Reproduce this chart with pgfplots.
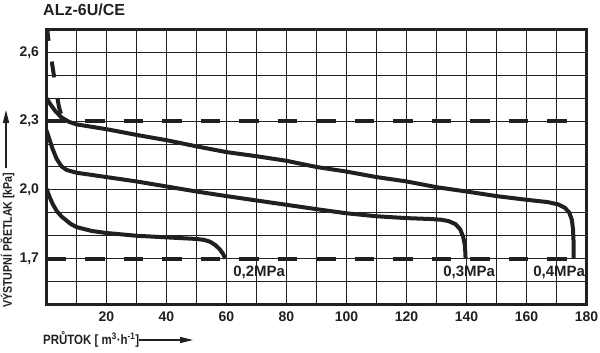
\documentclass[border=0pt]{standalone}
\usepackage{fontspec}
\setmainfont{Liberation Sans}
\newfontfamily\condfont{Liberation Sans}[FakeStretch=0.85]
\usepackage{pgfplots}
\pgfplotsset{compat=1.18}
\usetikzlibrary{arrows.meta}
\definecolor{ink}{RGB}{35,31,32}
\begin{document}
\begin{tikzpicture}
\useasboundingbox (-46.5pt,-48.5pt) rectangle (553.5pt,304.5pt);
\begin{axis}[
  at={(0pt,0pt)}, anchor=south west,
  scale only axis, width=540pt, height=275pt,
  xmin=0, xmax=180, ymin=1.5, ymax=2.7,
  xtick={20,40,60,80,100,120,140,160,180},
  xticklabels={20,40,60,80,100,120,140,160,180},
  minor xtick={10,30,50,70,90,110,130,150,170},
  ytick={1.7,2.0,2.3,2.6},
  yticklabels={{1,7},{2,0},{2,3},{2,6}},
  minor ytick={1.6,1.8,1.9,2.1,2.2,2.4,2.5},
  grid=both,
  grid style={ink, line width=1pt},
  major grid style={ink, line width=1pt},
  minor grid style={ink, line width=1pt},
  major tick length=0pt, minor tick length=0pt,
  axis line style={ink, line width=2.5pt},
  ticklabel style={font=\fontsize{14}{16}\selectfont\bfseries, text=ink},
  xticklabel style={yshift=-4pt},
  yticklabel style={xshift=-4pt},
  clip=true,
]
% dashed reference lines
\addplot[ink, line width=4pt, dash pattern=on 19.5pt off 19pt] coordinates {(0,1.7) (180,1.7)};
\addplot[ink, line width=4pt, dash pattern=on 19.5pt off 19pt] coordinates {(0,2.3) (180,2.3)};
\addplot[ink, line width=4pt, dash pattern=on 16pt off 21pt] coordinates {
 (0.1,2.72) (0.6,2.66) (1.3,2.60) (2.0,2.54) (2.8,2.47) (3.5,2.41) (4.2,2.36) (5.0,2.325) (6.0,2.305) (7.5,2.30)};
% 0.4 MPa
\addplot[ink, line width=4pt] coordinates {
 (0,2.40) (1.5,2.37) (3,2.343) (5,2.316) (7.5,2.297) (10,2.286) (20,2.265) (30,2.24)
 (40,2.217) (50,2.19) (60,2.165) (70,2.147) (80,2.127) (90,2.10) (100,2.08)
 (110,2.056) (120,2.037) (130,2.012) (140,1.993) (150,1.973) (160,1.957)
 (167,1.947) (170.5,1.937) (172.8,1.922) (174.3,1.90) (175.1,1.87) (175.5,1.83)
 (175.7,1.77) (175.7,1.70)};
% 0.3 MPa
\addplot[ink, line width=4pt] coordinates {
 (0,2.26) (1,2.22) (2,2.18) (3.4,2.135) (5,2.103) (6.7,2.087) (10,2.075) (20,2.056)
 (30,2.037) (40,2.015) (50,1.993) (60,1.973) (70,1.954) (80,1.935) (90,1.916)
 (100,1.898) (110,1.885) (120,1.877) (128,1.873) (131.5,1.870) (134,1.864)
 (136.3,1.851) (137.9,1.828) (138.9,1.795) (139.5,1.755) (139.7,1.70)};
% 0.2 MPa
\addplot[ink, line width=4pt] coordinates {
 (0,2.005) (1,1.97) (2,1.94) (3.4,1.908) (5,1.884) (6.7,1.866) (8,1.852) (10,1.838)
 (15,1.821) (20,1.812) (30,1.80) (40,1.793) (50,1.786) (52.5,1.782) (54.5,1.774)
 (56.3,1.759) (57.8,1.740) (58.9,1.72) (59.6,1.70)};
\node[anchor=base west, inner sep=0pt, text=ink, font=\fontsize{15}{17}\selectfont\bfseries] at (axis cs:62.2,1.621) {0,2MPa};
\node[anchor=base west, inner sep=0pt, text=ink, font=\fontsize{15}{17}\selectfont\bfseries] at (axis cs:132.2,1.621) {0,3MPa};
\node[anchor=base west, inner sep=0pt, text=ink, font=\fontsize{15}{17}\selectfont\bfseries] at (axis cs:162.2,1.621) {0,4MPa};
\end{axis}
% title
\node[anchor=base west, inner sep=0pt, text=ink, font=\fontsize{16}{18}\selectfont\bfseries] at (-3.5pt,288.5pt) {ALz-6U/CE};
% x label with arrow
\node[anchor=base west, inner sep=0pt, text=ink, font=\condfont\fontsize{13.5}{15}\selectfont\bfseries] (xl) at (-3.5pt,-40.5pt) {PRŮTOK [ m\textsuperscript{3}·h\textsuperscript{-1}]};
\draw[ink, line width=1.3pt, -{Triangle[length=13pt,width=6pt]}] (xl.east |- 0,-35.5pt) -- (146.5pt,-35.5pt);
% y label with arrow
\node[rotate=90, anchor=base west, inner sep=0pt, text=ink, font=\condfont\fontsize{12.5}{14}\selectfont\bfseries] (yl) at (-34.5pt,-3.5pt) {VÝSTUPNÍ PŘETLAK [kPa]};
\draw[ink, line width=1.3pt, -{Triangle[length=13pt,width=6pt]}] (-40.5pt,136.5pt) -- (-40.5pt,194.5pt);
\end{tikzpicture}
\end{document}
